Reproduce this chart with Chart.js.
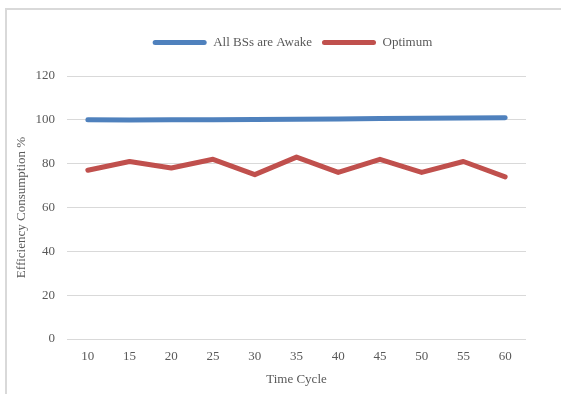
<!DOCTYPE html>
<html>
<head>
<meta charset="utf-8">
<script src="https://cdn.jsdelivr.net/npm/chart.js@4.4.1/dist/chart.umd.min.js"></script>
<style>
  html, body { margin: 0; padding: 0; background: #ffffff; overflow: hidden; }
  #wrap { position: relative; width: 561px; height: 394px; overflow: hidden; }
  #frameTop { position: absolute; left: 5px; top: 8px; width: 556px; height: 2px; background: #d9d9d9; }
  #frameLeft { position: absolute; left: 5px; top: 8px; width: 2px; height: 386px; background: #d9d9d9; }
  canvas { position: absolute; left: 0; top: 0; }
</style>
</head>
<body>
<div id="wrap">
  <div id="frameTop"></div>
  <div id="frameLeft"></div>
  <canvas id="chart" width="561" height="394"></canvas>
</div>
<script>
// Time cycles on the category axis
const timeCycles = ['10', '15', '20', '25', '30', '35', '40', '45', '50', '55', '60'];

// Efficiency consumption (%) per time cycle
const allAwake = [100, 99.9, 100, 100, 100.2, 100.3, 100.4, 100.6, 100.7, 100.8, 101];
const optimum  = [77, 81, 78, 82, 75, 83, 76, 82, 76, 81, 74];

// Value axis ticks
const yMin = 0, yMax = 120, yStep = 20;

const textColor = '#595959';
const gridColor = '#d9d9d9';
const serif = "'Liberation Serif', 'Times New Roman', serif";

// Moves the legend row: roughly centred over the plot and a little higher than its layout slot
const legendShift = {
  id: 'legendShift',
  afterLayout(chart) {
    const lg = chart.legend;
    if (!lg) return;
    const dx = (chart.chartArea.left + chart.chartArea.right) / 2 - (lg.left + lg.right) / 2 - 4;
    lg.left += dx; lg.right += dx;
    lg.top -= 17; lg.bottom -= 17;
  }
};

new Chart(document.getElementById('chart'), {
  type: 'line',
  data: {
    labels: timeCycles,
    datasets: [
      {
        label: 'All BSs are Awake',
        data: allAwake,
        borderColor: '#4f81bd',
        backgroundColor: '#4f81bd',
        borderWidth: 5,
        borderCapStyle: 'round',
        borderJoinStyle: 'round',
        pointRadius: 0,
        tension: 0
      },
      {
        label: 'Optimum',
        data: optimum,
        borderColor: '#c0504d',
        backgroundColor: '#c0504d',
        borderWidth: 5,
        borderCapStyle: 'round',
        borderJoinStyle: 'round',
        pointRadius: 0,
        tension: 0
      }
    ]
  },
  plugins: [legendShift],
  options: {
    responsive: false,
    animation: false,
    events: [],
    layout: { padding: { left: 8, right: 35, top: 43, bottom: 7 } },
    plugins: {
      tooltip: { enabled: false },
      legend: {
        position: 'top',
        labels: {
          color: textColor,
          font: { family: serif, size: 13 },
          boxWidth: 54,
          boxHeight: 5,
          padding: 10,
          useBorderRadius: true,
          borderRadius: 2.5,
          generateLabels(chart) {
            return chart.data.datasets.map((ds, i) => ({
              text: ds.label,
              fillStyle: ds.borderColor,
              strokeStyle: ds.borderColor,
              lineWidth: 0,
              fontColor: textColor,
              borderRadius: 2.5,
              datasetIndex: i
            }));
          }
        }
      }
    },
    scales: {
      x: {
        offset: true,
        grid: { display: false, drawTicks: false },
        border: { display: false },
        ticks: { color: textColor, font: { family: serif, size: 13 }, padding: 10, maxRotation: 0 },
        title: {
          display: true,
          text: 'Time Cycle',
          color: textColor,
          font: { family: serif, size: 13 },
          padding: { top: 0, bottom: 0 }
        },
        afterFit(scale) { scale.height = 48; }
      },
      y: {
        min: yMin,
        max: yMax,
        ticks: { stepSize: yStep, color: textColor, font: { family: serif, size: 13 }, padding: 12 },
        grid: { color: gridColor, lineWidth: 1, drawTicks: false },
        border: { display: false },
        title: {
          display: true,
          text: 'Efficiency Consumption %',
          color: textColor,
          font: { family: serif, size: 13 },
          padding: { top: 6, bottom: 0 }
        },
        afterFit(scale) { scale.width = 59; }
      }
    }
  }
});
</script>
</body>
</html>
